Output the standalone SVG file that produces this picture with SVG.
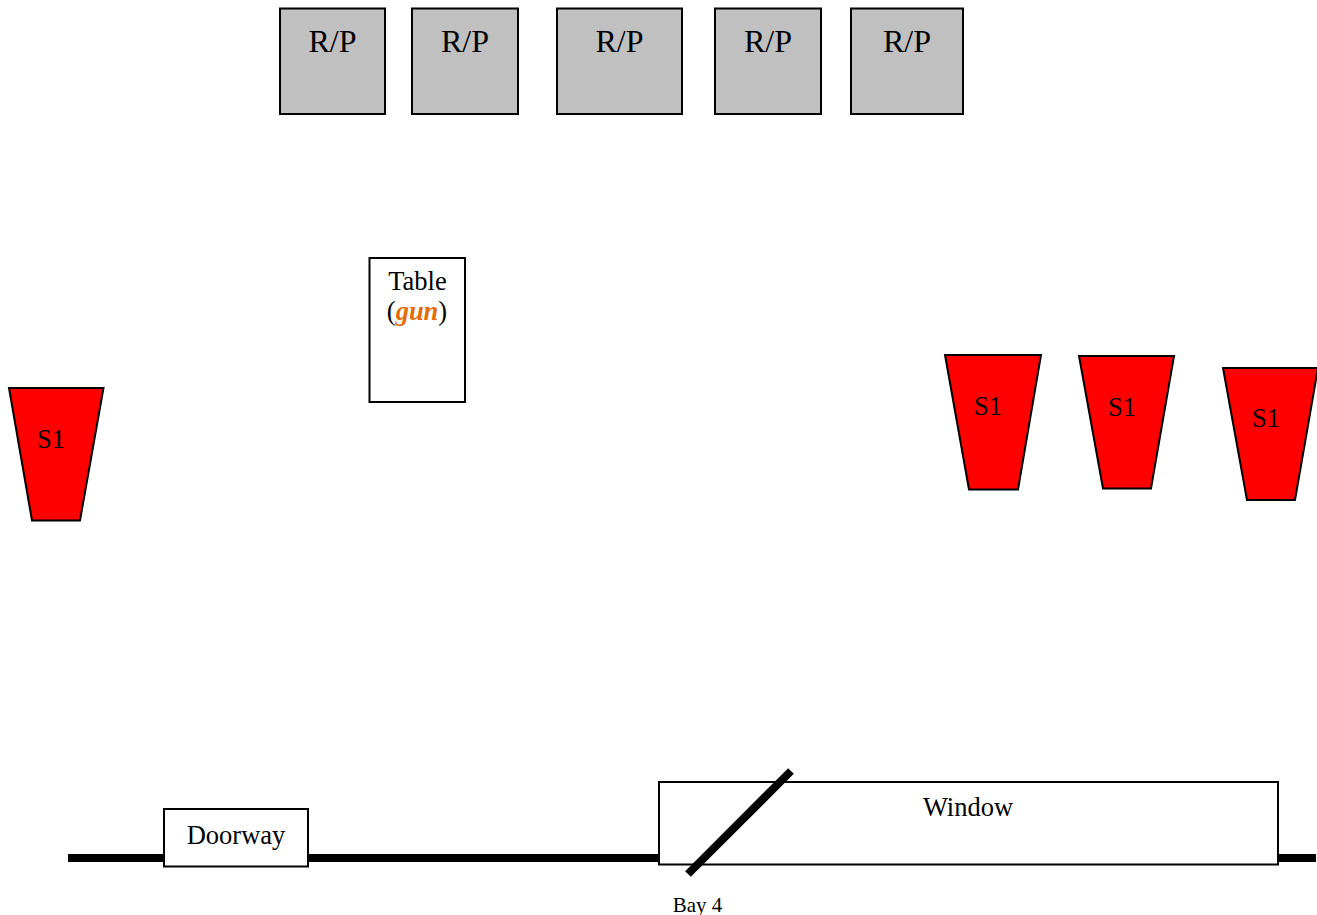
<svg xmlns="http://www.w3.org/2000/svg" width="1317" height="915" viewBox="0 0 1317 915">
<style>
text{font-family:"Liberation Serif","Times New Roman",serif;fill:#000;text-anchor:middle}
.rp{fill:#c0c0c0;stroke:#000;stroke-width:2}
.rp+text{font-size:32px}
.s{fill:#f00;stroke:#000;stroke-width:2}
.s+text{font-size:26.5px}
.w{fill:#fff;stroke:#000;stroke-width:2}
.wall{stroke:#000;stroke-width:8;fill:none}
</style>
<rect width="1317" height="915" fill="#fff"/>
<g id="walls">
<path class="wall" d="M68 858H164M308 858H659M1278 858H1316"/>
</g>
<g id="rp1"><rect class="rp" x="280" y="8.500" width="105" height="105.500"/><text x="332.500" y="51.500">R/P</text></g>
<g id="rp2"><rect class="rp" x="412" y="8.500" width="106" height="105.500"/><text x="465" y="51.500">R/P</text></g>
<g id="rp3"><rect class="rp" x="557" y="8.500" width="125" height="105.500"/><text x="619.500" y="51.500">R/P</text></g>
<g id="rp4"><rect class="rp" x="715" y="8.500" width="106" height="105.500"/><text x="768" y="51.500">R/P</text></g>
<g id="rp5"><rect class="rp" x="851" y="8.500" width="112" height="105.500"/><text x="907" y="51.500">R/P</text></g>
<g id="table"><rect class="w" x="369.500" y="258" width="95.500" height="144"/>
<text x="417.500" y="290" font-size="26.500">Table</text>
<text x="417" y="319.500" font-size="26.500">(<tspan fill="#e36c0a" font-weight="bold" font-style="italic">gun</tspan>)</text></g>
<g id="s1a"><polygon class="s" points="9,388 103.500,388 80,520.500 32,520.500"/><text x="51" y="448">S1</text></g>
<g id="s1b"><polygon class="s" points="945,355 1041,355 1018,489.500 969,489.500"/><text x="988" y="415">S1</text></g>
<g id="s1c"><polygon class="s" points="1079,356 1174,356 1151,488.500 1103,488.500"/><text x="1122" y="416">S1</text></g>
<g id="s1d"><polygon class="s" points="1223,368 1318,368 1295,500 1247,500"/><text x="1266" y="427">S1</text></g>
<g id="doorway"><rect class="w" x="164" y="809" width="144" height="57.500"/><text x="236" y="844" font-size="26.500">Doorway</text></g>
<g id="window"><rect class="w" x="659" y="782" width="619" height="82.500"/><text x="968" y="816" font-size="26.500">Window</text></g>
<g id="bay"><path stroke="#000" stroke-width="8" fill="none" d="M688 874L791 771"/><text x="697.500" y="912" font-size="21">Bay 4</text></g>
</svg>
